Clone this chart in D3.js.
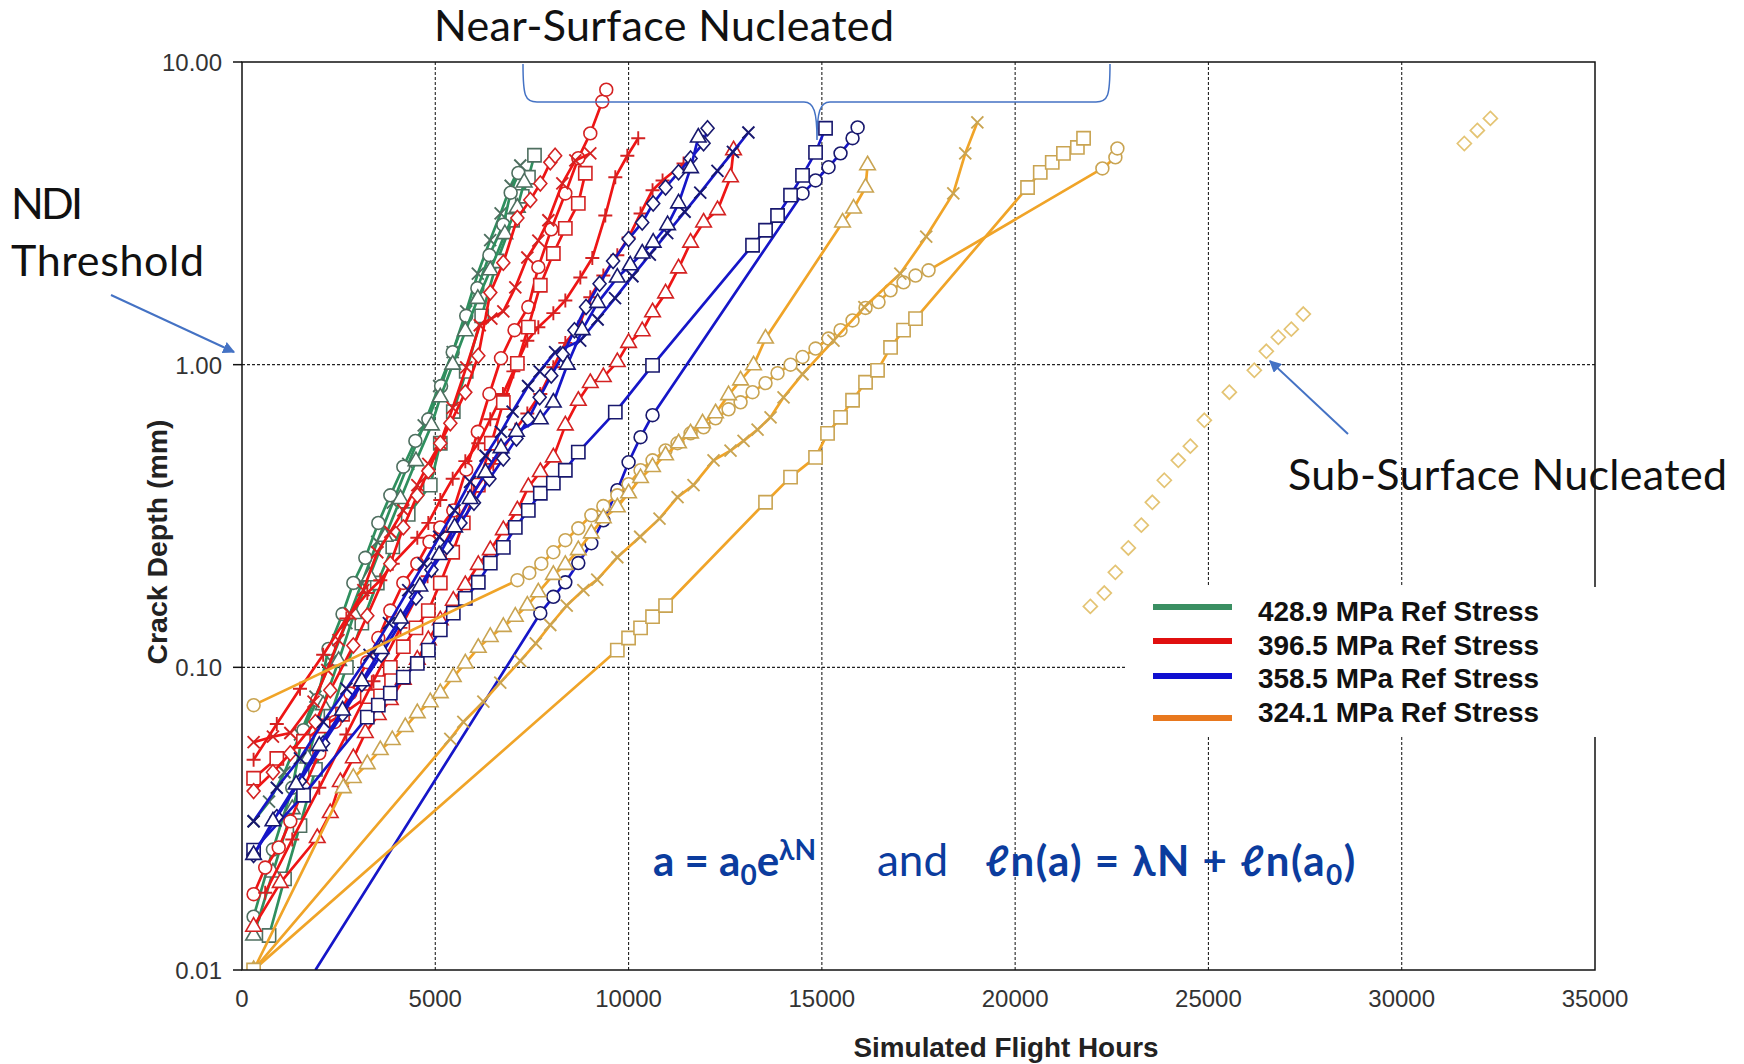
<!DOCTYPE html>
<html>
<head>
<meta charset="utf-8">
<script src="https://cdn.jsdelivr.net/npm/d3@7"></script>
<style>
body { margin:0; background:#fff; }
svg { display:block; }
</style>
</head>
<body>
<svg id="chart"></svg>
<script>

var xTicks = [0,5000,10000,15000,20000,25000,30000,35000];
var yTicks = [0.01,0.1,1,10];
var yTickLabels = ["0.01","0.10","1.00","10.00"];
var stressLabels = ["428.9 MPa Ref Stress","396.5 MPa Ref Stress","358.5 MPa Ref Stress","324.1 MPa Ref Stress"];

// 428.9 MPa
var green_times = [[300,0.031],[700,0.036],[1100,0.045],[1500,0.06],[1900,0.08],[2300,0.105],[2700,0.14],[3100,0.19],[3500,0.26],[3900,0.35],[4300,0.47],[4700,0.63],[5100,0.85],[5450,1.1],[5800,1.5],[6100,2.0],[6420,2.58],[6690,3.16],[6950,3.9],[7199,4.55]];
var green_square = [[700,0.013],[1100,0.02],[1500,0.03],[1900,0.046],[2300,0.07],[2700,0.1],[3100,0.14],[3500,0.19],[3900,0.25],[4300,0.32],[4871,0.40],[5130,0.55],[5466,0.70],[5800,0.95],[6200,1.45],[6600,2.2],[7000,3.0],[7250,3.6],[7410,4.16],[7566,4.92]];
var green_circle = [[300,0.015],[800,0.025],[1300,0.04],[1590,0.062],[1947,0.078],[2237,0.115],[2600,0.15],[2880,0.19],[3190,0.23],[3526,0.30],[3837,0.37],[4173,0.46],[4485,0.56],[4820,0.66],[5150,0.85],[5450,1.1],[5800,1.45],[6088,1.79],[6400,2.3],[6760,2.9],[6950,3.7],[7150,4.3]];
var green_triangle = [[300,0.013],[800,0.021],[1300,0.034],[1700,0.05],[2100,0.075],[2500,0.105],[2900,0.15],[3300,0.2],[3700,0.27],[4100,0.36],[4500,0.48],[4900,0.63],[5130,0.78],[5450,1.0],[5777,1.29],[6100,1.65],[6423,2.05],[6800,2.7],[7123,3.3],[7300,4.0]];

// 396.5 MPa
var red_circle = [[300,0.0178],[600,0.0218],[950,0.0254],[1250,0.031],[1600,0.040],[2000,0.052],[2400,0.066],[2800,0.082],[3241,0.104],[3526,0.125],[3837,0.154],[4173,0.19],[4535,0.22],[4850,0.26],[5130,0.29],[5466,0.33],[5800,0.45],[6100,0.60],[6400,0.80],[6700,1.05],[7050,1.3],[7407,1.55],[7666,2.10],[8000,2.8],[8364,3.68],[8700,4.81],[9010,5.81],[9320,7.4],[9423,8.1]];
var red_plus = [[300,0.0495],[900,0.065],[1500,0.085],[2100,0.11],[2700,0.145],[3241,0.176],[3578,0.194],[3900,0.22],[4535,0.268],[4820,0.30],[5130,0.357],[5450,0.42],[5777,0.48],[6113,0.55],[6423,0.66],[6750,0.8],[7020,0.95],[7381,1.20],[7666,1.33],[8054,1.48],[8364,1.63],[8752,1.94],[9062,2.25],[9398,3.11],[9657,4.16],[9968,4.9],[10250,5.6]];
var red_times = [[300,0.0566],[800,0.059],[1250,0.0607],[1850,0.077],[2206,0.098],[2495,0.123],[2802,0.15],[3139,0.18],[3500,0.24],[3837,0.28],[4173,0.33],[4535,0.40],[4820,0.47],[5130,0.55],[5450,0.72],[5800,0.98],[6150,1.35],[6450,1.42],[6760,1.5],[7070,1.80],[7381,2.26],[7666,2.57],[7925,3.0],[8287,3.97],[8623,4.73],[9010,4.99]];
var red_square = [[300,0.043],[900,0.05],[1590,0.057],[2100,0.064],[2600,0.07],[3241,0.08],[3526,0.089],[3837,0.10],[4173,0.117],[4500,0.135],[4820,0.154],[5130,0.19],[5450,0.24],[5725,0.30],[6113,0.40],[6450,0.55],[6760,0.75],[7123,1.01],[7407,1.33],[7717,1.83],[8054,2.33],[8364,2.82],[8700,3.41],[8881,4.29]];
var red_diamond = [[300,0.039],[800,0.045],[1250,0.052],[1900,0.066],[2284,0.084],[2880,0.118],[3241,0.148],[3837,0.22],[4173,0.29],[4535,0.37],[4820,0.445],[5130,0.55],[5390,0.64],[5777,0.81],[6113,1.07],[6423,1.73],[6760,2.17],[7123,3.05],[7458,3.5],[7717,3.97],[7975,4.66],[8100,4.9]];
var red_plus2 = [[600,0.018],[1300,0.027],[2000,0.04],[2700,0.06],[3400,0.09],[4100,0.135],[4800,0.2],[5400,0.28],[6000,0.38],[6500,0.47],[7070,0.61],[7381,0.69],[7717,0.80],[8054,0.98],[8364,1.18],[8700,1.33],[9010,1.67],[9347,1.97],[9709,2.30],[10000,2.63],[10310,3.16],[10620,3.77],[10879,4.06],[11422,4.62]];
var red_triangle = [[300,0.0139],[990,0.0194],[1947,0.0273],[2284,0.033],[2543,0.0418],[2880,0.0501],[3190,0.0607],[3526,0.0696],[3837,0.078],[4173,0.091],[4535,0.106],[4820,0.123],[5130,0.143],[5466,0.166],[5777,0.187],[6113,0.218],[6423,0.244],[6760,0.284],[7123,0.330],[7407,0.394],[7717,0.442],[8054,0.494],[8364,0.63],[8700,0.76],[9010,0.87],[9347,0.91],[9709,1.02],[10000,1.18],[10353,1.29],[10620,1.49],[10957,1.72],[11293,2.08],[11604,2.53],[11940,2.95],[12301,3.24],[12637,4.16],[12715,5.11]];

// 358.5 MPa
var blue_circle = [[1900,0.01],[7717,0.151],[8054,0.171],[8364,0.191],[8700,0.221],[9037,0.257],[9347,0.306],[9709,0.385],[10000,0.476],[10310,0.576],[10620,0.681],[14500,3.68],[14837,4.06],[15173,4.49],[15483,4.99],[15794,5.60],[15925,6.08]];
var blue_square = [[300,0.0249],[1591,0.0378],[3241,0.0685],[3526,0.075],[3837,0.0822],[4173,0.0928],[4535,0.103],[4820,0.114],[5130,0.133],[5466,0.151],[5777,0.169],[6113,0.191],[6423,0.221],[6760,0.249],[7070,0.290],[7407,0.330],[7717,0.376],[8054,0.406],[8364,0.448],[8700,0.514],[9657,0.697],[10620,0.995],[13207,2.48],[13543,2.78],[13854,3.11],[14190,3.63],[14500,4.22],[14837,5.03],[15095,6.04]];
var blue_times = [[300,0.031],[900,0.04],[1500,0.05],[2100,0.066],[2700,0.085],[3300,0.11],[3800,0.14],[4300,0.18],[4700,0.22],[5100,0.27],[5500,0.33],[5900,0.41],[6300,0.5],[6700,0.6],[7000,0.7],[7400,0.85],[7700,0.95],[8100,1.1],[8750,1.2],[9200,1.41],[9650,1.66],[10100,1.96],[10550,2.31],[11000,2.72],[11450,3.2],[11855,3.7],[12300,4.37],[12700,5.05],[13100,5.85]];
var blue_diamond = [[300,0.024],[900,0.032],[1500,0.042],[2100,0.056],[2600,0.07],[3100,0.088],[3600,0.11],[4100,0.14],[4500,0.17],[4900,0.21],[5300,0.25],[5650,0.3],[6000,0.35],[6400,0.42],[6760,0.49],[7100,0.57],[7400,0.66],[7700,0.78],[8000,0.92],[8300,1.08],[8600,1.3],[8900,1.55],[9250,1.85],[9600,2.2],[10000,2.6],[10353,2.95],[10637,3.41],[10957,3.85],[11293,4.32],[11604,4.80],[11940,5.39],[12043,6.04]];
var blue_triangle = [[300,0.024],[800,0.031],[1400,0.041],[2000,0.055],[2600,0.072],[3100,0.09],[3600,0.115],[4100,0.145],[4600,0.185],[5100,0.235],[5500,0.29],[5900,0.36],[6300,0.44],[6700,0.53],[7100,0.6],[7717,0.66],[8054,0.75],[8416,1.0],[8800,1.3],[9200,1.6],[9709,1.94],[10043,2.13],[10353,2.33],[10637,2.53],[11009,2.89],[11293,3.41],[11604,4.46],[11803,5.63]];

// 324.1 MPa
var orange_circle = [[300,0.075],[7123,0.194],[7433,0.205],[7743,0.22],[8054,0.240],[8364,0.263],[8700,0.288],[9037,0.318],[9347,0.341],[9709,0.370],[10000,0.403],[10310,0.448],[10620,0.483],[10957,0.521],[11267,0.550],[11604,0.593],[11940,0.621],[12250,0.665],[12586,0.712],[12897,0.751],[13207,0.811],[13543,0.869],[13854,0.937],[14190,1.00],[14500,1.06],[14837,1.13],[15173,1.22],[15483,1.30],[15794,1.40],[16130,1.54],[16466,1.61],[16777,1.76],[17113,1.87],[17423,1.97],[17760,2.05],[22257,4.45],[22593,4.84],[22645,5.18]];
var orange_triangle = [[300,0.01],[2621,0.0399],[2880,0.0431],[3241,0.0479],[3578,0.0533],[3888,0.0575],[4224,0.0635],[4535,0.0706],[4871,0.0767],[5130,0.0822],[5466,0.0929],[5777,0.103],[6113,0.116],[6423,0.126],[6760,0.136],[7070,0.147],[7381,0.160],[7665,0.177],[8054,0.202],[8364,0.218],[8700,0.244],[9037,0.277],[9347,0.311],[9709,0.338],[10000,0.376],[10310,0.422],[10620,0.459],[10957,0.502],[11293,0.550],[11604,0.593],[11914,0.640],[12250,0.691],[12586,0.793],[12897,0.887],[13233,0.995],[13543,1.22],[15535,2.95],[15820,3.28],[16130,3.85],[16182,4.56]];
var orange_times = [[300,0.01],[5388,0.058],[5725,0.066],[6243,0.077],[6681,0.089],[7200,0.105],[7600,0.12],[7975,0.138],[8400,0.16],[8830,0.18],[9190,0.195],[9709,0.231],[10300,0.27],[10800,0.31],[11267,0.365],[11680,0.40],[12198,0.483],[12637,0.52],[12975,0.56],[13337,0.61],[13673,0.67],[14009,0.78],[14500,0.93],[15300,1.20],[16100,1.55],[17030,2.0],[17700,2.65],[18400,3.68],[18710,4.99],[19022,6.32]];
var orange_square = [[300,0.01],[9709,0.114],[10000,0.125],[10310,0.135],[10620,0.147],[10957,0.160],[13543,0.351],[14190,0.425],[14837,0.494],[15147,0.593],[15483,0.670],[15794,0.763],[16130,0.875],[16440,0.958],[16777,1.14],[17113,1.30],[17423,1.42],[20321,3.85],[20650,4.32],[20960,4.66],[21250,4.99],[21610,5.22],[21770,5.60]];
var orange_subsurface = [[21945,0.159],[22307,0.176],[22592,0.206],[22928,0.248],[23264,0.295],[23549,0.351],[23859,0.415],[24221,0.483],[24532,0.538],[24894,0.655],[25541,0.811],[26187,0.958],[26498,1.107],[26808,1.232],[27144,1.31],[27455,1.47],[31620,5.38],[31956,5.94],[32293,6.51]];

var lineColors = ["#2f8f5e","#ee1515","#1616c8","#f0a428"];
var markerStroke = ["#4f6f60","#d42222","#18186e","#c9a452"];
var legendColors = ["#3a8f62","#e00f0f","#0f0fd0","#e8781e"];

var series = [
    {data:green_times, group:0, marker:"times"},
    {data:green_square, group:0, marker:"square"},
    {data:green_circle, group:0, marker:"circle"},
    {data:green_triangle, group:0, marker:"triangle"},
    {data:red_circle, group:1, marker:"circle"},
    {data:red_plus, group:1, marker:"plus"},
    {data:red_times, group:1, marker:"times"},
    {data:red_square, group:1, marker:"square"},
    {data:red_diamond, group:1, marker:"diamond"},
    {data:red_plus2, group:1, marker:"plus"},
    {data:red_triangle, group:1, marker:"triangle"},
    {data:blue_circle, group:2, marker:"circle", bare:true},
    {data:blue_square, group:2, marker:"square"},
    {data:blue_times, group:2, marker:"times"},
    {data:blue_diamond, group:2, marker:"diamond"},
    {data:blue_triangle, group:2, marker:"triangle"},
    {data:orange_circle, group:3, marker:"circle"},
    {data:orange_triangle, group:3, marker:"triangle"},
    {data:orange_times, group:3, marker:"times"},
    {data:orange_square, group:3, marker:"square"}
];

var markerPath = function(type)
{
    if (type == "times") return "M-6,-6L6,6M-6,6L6,-6";
    if (type == "plus") return "M-7,0L7,0M0,-7L0,7";
    if (type == "diamond") return "M0,-7.5L6.5,0L0,7.5L-6.5,0Z";
    if (type == "square") return d3.symbol(d3.symbolSquare,175)();
    if (type == "triangle") return d3.symbol(d3.symbolTriangle,105)();
    return d3.symbol(d3.symbolCircle,130)();
}

var width = 1744;
var height = 1064;
var plotLeft = 242, plotRight = 1595, plotTop = 62, plotBottom = 970;

var svg = d3.select("#chart")
    .attr("width",width)
    .attr("height",height);

var xScale = d3.scaleLinear()
    .domain([0,35000])
    .range([plotLeft,plotRight]);

var yScale = d3.scaleLog()
    .domain([0.01,10])
    .range([plotBottom,plotTop]);

//grid lines
svg.selectAll(".vgrid")
    .data(xTicks.slice(1,-1))
    .enter()
    .append("line")
    .attr("x1",function(d){return xScale(d)})
    .attr("x2",function(d){return xScale(d)})
    .attr("y1",plotTop)
    .attr("y2",plotBottom)
    .attr("stroke","#222")
    .attr("stroke-width",1.1)
    .attr("stroke-dasharray","3,2");

svg.selectAll(".hgrid")
    .data(yTicks.slice(1,-1))
    .enter()
    .append("line")
    .attr("x1",plotLeft)
    .attr("x2",plotRight)
    .attr("y1",function(d){return yScale(d)})
    .attr("y2",function(d){return yScale(d)})
    .attr("stroke","#222")
    .attr("stroke-width",1.1)
    .attr("stroke-dasharray","3,2");

svg.append("clipPath")
    .attr("id","plot")
    .append("rect")
    .attr("x",plotLeft)
    .attr("y",plotTop)
    .attr("width",plotRight-plotLeft)
    .attr("height",plotBottom-plotTop);

var line = d3.line()
    .x(function(d){return xScale(d[0])})
    .y(function(d){return yScale(d[1])});

var plot = svg.append("g").attr("clip-path","url(#plot)");

//sub-surface points
plot.selectAll(".sub")
    .data(orange_subsurface)
    .enter()
    .append("path")
    .attr("transform",function(d){return "translate("+xScale(d[0])+","+yScale(d[1])+")"})
    .attr("d","M0,-7L7,0L0,7L-7,0Z")
    .attr("fill","#fff")
    .attr("stroke","#e4c474")
    .attr("stroke-width",1.7);

//draw each curve then its markers
series.forEach(function(s)
{
    plot.append("path")
        .datum(s.data)
        .attr("d",line)
        .attr("fill","none")
        .attr("stroke",lineColors[s.group])
        .attr("stroke-width",2.7)
        .attr("stroke-linejoin","round");

    var pts = s.bare ? s.data.slice(1) : s.data;
    var open = (s.marker == "times" || s.marker == "plus");
    plot.selectAll(null)
        .data(pts)
        .enter()
        .append("path")
        .attr("transform",function(d){return "translate("+xScale(d[0])+","+yScale(d[1])+")"})
        .attr("d",markerPath(s.marker))
        .attr("fill",open ? "none" : "#fff")
        .attr("stroke",markerStroke[s.group])
        .attr("stroke-width",open ? 1.9 : 1.6);
});

//frame and ticks
svg.append("rect")
    .attr("x",plotLeft)
    .attr("y",plotTop)
    .attr("width",plotRight-plotLeft)
    .attr("height",plotBottom-plotTop)
    .attr("fill","none")
    .attr("stroke","#111")
    .attr("stroke-width",1.5);

svg.selectAll(".ytick")
    .data(yTicks)
    .enter()
    .append("line")
    .attr("x1",plotLeft-9)
    .attr("x2",plotLeft)
    .attr("y1",function(d){return yScale(d)})
    .attr("y2",function(d){return yScale(d)})
    .attr("stroke","#111")
    .attr("stroke-width",1.5);

svg.selectAll(".ylab")
    .data(yTicks)
    .enter()
    .append("text")
    .attr("x",plotLeft-20)
    .attr("y",function(d){return yScale(d)+9})
    .attr("text-anchor","end")
    .attr("font-family","Liberation Sans, Arial, sans-serif")
    .attr("font-size",24)
    .attr("fill","#333")
    .text(function(d,i){return yTickLabels[i]});

svg.selectAll(".xlab")
    .data(xTicks)
    .enter()
    .append("text")
    .attr("x",function(d){return xScale(d)})
    .attr("y",1007)
    .attr("text-anchor","middle")
    .attr("font-family","Liberation Sans, Arial, sans-serif")
    .attr("font-size",24)
    .attr("fill","#333")
    .text(function(d){return d});

//axis titles
svg.append("text")
    .attr("transform","translate(167,542) rotate(-90)")
    .attr("text-anchor","middle")
    .attr("font-family","Liberation Sans, Arial, sans-serif")
    .attr("font-weight","bold")
    .attr("font-size",27)
    .attr("textLength",245)
    .attr("lengthAdjust","spacingAndGlyphs")
    .attr("fill","#222")
    .text("Crack Depth (mm)");

svg.append("text")
    .attr("x",1006)
    .attr("y",1057)
    .attr("text-anchor","middle")
    .attr("font-family","Liberation Sans, Arial, sans-serif")
    .attr("font-weight","bold")
    .attr("font-size",27)
    .attr("textLength",305)
    .attr("lengthAdjust","spacingAndGlyphs")
    .attr("fill","#222")
    .text("Simulated Flight Hours");

//legend
var legend = svg.append("g");
legend.append("rect")
    .attr("x",1127)
    .attr("y",587)
    .attr("width",480)
    .attr("height",150)
    .attr("fill","#fff");

var legendY = [607,641,676,718];
legend.selectAll("line")
    .data(stressLabels)
    .enter()
    .append("line")
    .attr("x1",1153)
    .attr("x2",1232)
    .attr("y1",function(d,i){return legendY[i]})
    .attr("y2",function(d,i){return legendY[i]})
    .attr("stroke",function(d,i){return legendColors[i]})
    .attr("stroke-width",6);

legend.selectAll("text")
    .data(stressLabels)
    .enter()
    .append("text")
    .attr("x",1258)
    .attr("y",function(d,i){return 621+i*33.5})
    .attr("font-family","Liberation Sans, Arial, sans-serif")
    .attr("font-weight","bold")
    .attr("font-size",28)
    .attr("textLength",281)
    .attr("lengthAdjust","spacingAndGlyphs")
    .attr("fill","#111")
    .text(function(d){return d});

//annotations
var note = "Lato, 'Open Sans', sans-serif";
var noteBlue = "#4472c4";

svg.append("defs")
    .append("marker")
    .attr("id","head")
    .attr("viewBox","0 0 10 10")
    .attr("refX",9)
    .attr("refY",5)
    .attr("markerWidth",6)
    .attr("markerHeight",6)
    .attr("orient","auto")
    .append("path")
    .attr("d","M0,0L10,5L0,10Z")
    .attr("fill",noteBlue);

svg.append("text")
    .attr("x",434)
    .attr("y",41)
    .attr("font-family",note)
    .attr("font-size",43)
    .attr("textLength",460)
    .attr("fill","#111")
    .text("Near-Surface Nucleated");

svg.append("path")
    .attr("d","M523,64 C523,96 525,102 537,102 L804,102 C814,102 817,112 817,140 C817,112 820,102 830,102 L1096,102 C1108,102 1110,96 1110,64")
    .attr("fill","none")
    .attr("stroke",noteBlue)
    .attr("stroke-width",1.5);

svg.append("text")
    .attr("x",11)
    .attr("y",219)
    .attr("font-family",note)
    .attr("font-size",43)
    .attr("textLength",72)
    .attr("fill","#111")
    .text("NDI");

svg.append("text")
    .attr("x",11)
    .attr("y",276)
    .attr("font-family",note)
    .attr("font-size",43)
    .attr("textLength",193)
    .attr("fill","#111")
    .text("Threshold");

svg.append("line")
    .attr("x1",111)
    .attr("y1",295)
    .attr("x2",234)
    .attr("y2",352)
    .attr("stroke",noteBlue)
    .attr("stroke-width",2)
    .attr("marker-end","url(#head)");

svg.append("text")
    .attr("x",1288)
    .attr("y",490)
    .attr("font-family",note)
    .attr("font-size",43)
    .attr("textLength",439)
    .attr("fill","#111")
    .text("Sub-Surface Nucleated");

svg.append("line")
    .attr("x1",1348)
    .attr("y1",434)
    .attr("x2",1270)
    .attr("y2",361)
    .attr("stroke",noteBlue)
    .attr("stroke-width",2)
    .attr("marker-end","url(#head)");

//equation
var eqColor = "#0b3c9e";
var eq1 = svg.append("text")
    .attr("x",653)
    .attr("y",876)
    .attr("font-family",note)
    .attr("font-weight","bold")
    .attr("font-size",42)
    .attr("fill",eqColor);
eq1.append("tspan").text("a = a");
eq1.append("tspan").attr("dy",9).attr("font-size",28).text("0");
eq1.append("tspan").attr("dy",-9).text("e");
eq1.append("tspan").attr("dy",-16).attr("font-size",28).text("λN");

svg.append("text")
    .attr("x",877)
    .attr("y",876)
    .attr("font-family",note)
    .attr("font-size",44)
    .attr("fill",eqColor)
    .text("and");

var eq2 = svg.append("text")
    .attr("x",985)
    .attr("y",876)
    .attr("font-family",note)
    .attr("font-weight","bold")
    .attr("font-size",42)
    .attr("letter-spacing",1.5)
    .attr("fill",eqColor);
eq2.append("tspan").text("ℓn(a) = λN + ℓn(a");
eq2.append("tspan").attr("dy",9).attr("font-size",28).text("0");
eq2.append("tspan").attr("dy",-9).text(")");

</script>
